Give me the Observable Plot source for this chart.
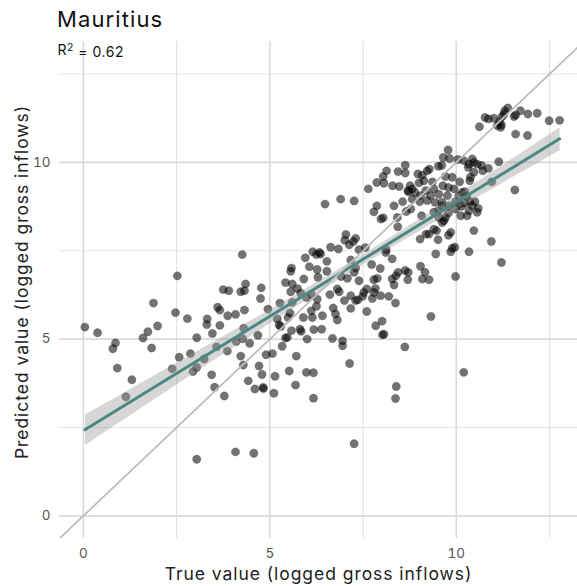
<!DOCTYPE html>
<html>
<head>
<meta charset="utf-8">
<script src="https://cdn.jsdelivr.net/npm/d3@7"></script>
<script src="https://cdn.jsdelivr.net/npm/@observablehq/plot@0.6"></script>
<style>
  body { margin: 0; background: #fff; }
  #title { font-family: Inter, sans-serif; font-size: 22px; letter-spacing: 1.1px; color: #111; height: 30px; padding-top: 6px; line-height: 26px; padding-left: 57px; box-sizing: content-box; }
  .axtitle { letter-spacing: 0.95px; }
  .r2 { letter-spacing: 0.5px; }
</style>
</head>
<body>
<div id="title">Mauritius</div>
<div id="chart"></div>
<script>
// ---- data ----
const chartTitle = "Mauritius";
const r2Base = "R";
const r2Sup = "2";
const r2Rest = " = 0.62";
const xLabel = "True value (logged gross inflows)";
const yLabel = "Predicted value (logged gross inflows)";
const majorTicks = [0, 5, 10];
const minorTicks = [2.5, 7.5, 12.5];
const xDomain = [-0.64, 13.25];
const yDomain = [-0.64, 13.42];

const trueValue = [
  4.26, 2.52,
  0.04, 0.38, 0.86, 0.79, 0.91, 1.30, 1.14, 1.88, 1.60, 1.73, 1.99, 1.83, 2.47, 2.79, 2.57, 2.87, 2.38, 2.94,
  3.04, 3.24, 3.04, 3.32, 3.31, 3.46, 3.66, 3.60, 3.66, 3.87, 4.08, 3.75, 3.90, 4.22, 3.57, 3.86, 4.10, 4.27,
  4.30, 4.22, 4.29, 3.44, 3.52, 3.78, 3.04, 4.08,
  5.42, 5.60, 5.91, 4.32, 4.35, 4.77, 4.75, 5.56, 5.74, 5.83, 5.27, 5.60, 4.95, 4.32, 5.98, 6.12, 6.27, 6.25,
  6.11, 6.14, 5.90, 6.41, 5.54, 5.49, 5.20, 5.29, 5.25, 5.58, 5.81, 5.84, 6.18, 6.39, 6.00, 6.61, 6.81, 6.86,
  7.00, 7.17, 7.17, 7.30, 7.36, 7.52, 7.60, 7.49, 7.75, 7.79, 7.83, 7.97, 8.19, 8.37, 6.70, 6.76, 6.81, 7.60,
  7.84, 8.01, 8.02, 8.06, 6.68, 6.95, 6.95, 4.68, 4.46, 5.42, 5.47, 5.33, 5.07, 4.90, 5.71, 5.52, 5.98, 6.17,
  5.14, 4.71, 4.79, 4.42, 4.60, 4.82, 4.83, 5.11, 5.69, 6.17, 7.14, 8.62, 8.39, 8.37, 7.26, 4.57, 7.08, 7.39,
  7.79, 7.88, 8.28, 8.33, 8.70,
  6.48, 6.90, 7.26, 7.64, 7.87, 8.04, 8.13, 8.06, 8.29, 8.47, 8.44, 8.63, 8.63, 8.70, 8.72, 7.87, 7.79, 7.98,
  8.04, 8.33, 8.56, 8.42, 8.43, 8.66, 7.04, 7.01, 7.13, 7.30, 7.24, 6.63, 6.84, 6.15, 6.25, 6.33, 6.36, 5.95,
  6.53, 6.06, 6.27, 6.53, 5.58, 5.56, 7.17, 7.39, 7.56, 7.73, 7.96, 8.12, 8.28, 8.11, 7.30, 7.26, 6.29, 6.91,
  8.44, 8.38, 8.63,
  10.62, 10.77, 10.86, 11.01, 11.10, 11.16, 11.23, 11.28, 11.30, 11.38, 11.21, 11.19, 11.55, 11.59, 11.72,
  11.92, 12.17, 12.49, 12.77, 11.59, 11.91, 9.78, 9.65, 9.82, 10.04, 10.20, 10.34, 10.43, 10.47, 10.56, 10.68,
  10.86, 11.14, 10.71, 10.47, 10.32, 10.38, 10.36, 10.09, 9.89, 9.71, 9.64, 9.52, 9.61, 9.28, 9.22, 9.09, 8.97,
  9.13, 8.76, 8.82, 9.00, 8.89, 9.04, 9.18, 9.36, 9.40, 9.53, 9.31, 8.82, 9.02, 9.22, 9.43, 9.62, 9.76, 9.79,
  9.94, 10.07, 10.16, 10.23, 10.28, 10.36, 10.43, 10.50, 10.56, 10.59, 10.34, 10.14, 9.98, 9.80, 9.62, 9.52,
  9.71, 9.53, 9.40, 8.78, 9.07, 9.79, 9.98, 10.09, 10.23, 10.12, 10.29, 10.95, 11.57, 9.62, 9.67, 9.19, 9.27,
  9.40, 9.47, 9.51, 9.03, 9.79, 9.85, 10.47, 10.94, 9.89, 9.96, 9.85, 10.34, 9.45, 11.21, 9.04, 9.16, 8.71, 9.98,
  9.09, 9.27, 9.32, 10.20
];
const predictedValue = [
  7.39, 6.79,
  5.34, 5.18, 4.89, 4.73, 4.18, 3.85, 3.37, 6.02, 5.03, 5.21, 5.37, 4.75, 5.75, 5.58, 4.49, 4.59, 4.16, 4.08,
  4.20, 4.44, 5.04, 5.57, 5.41, 5.16, 5.39, 5.90, 5.82, 5.66, 5.70, 6.40, 6.37, 6.34, 4.78, 4.66, 4.93, 5.01,
  5.31, 4.52, 4.27, 3.99, 3.64, 3.39, 1.60, 1.81,
  6.60, 6.56, 6.70, 6.37, 6.56, 6.45, 6.15, 6.34, 6.43, 6.30, 6.02, 6.04, 5.85, 5.82, 6.18, 6.26, 6.13, 5.93,
  5.80, 5.61, 5.61, 5.66, 5.74, 5.61, 5.57, 5.36, 5.40, 5.24, 5.28, 5.22, 5.27, 5.28, 5.00, 6.26, 6.42, 6.34,
  6.09, 5.87, 6.23, 6.09, 6.11, 6.32, 6.42, 6.21, 6.15, 6.32, 6.43, 6.23, 6.21, 6.02, 5.88, 5.71, 5.54, 5.78,
  5.38, 5.51, 5.12, 5.14, 5.02, 4.95, 4.81, 5.11, 4.88, 5.03, 5.05, 4.80, 4.59, 4.56, 4.52, 4.10, 4.06, 4.05,
  3.95, 4.24, 4.00, 3.82, 3.59, 3.63, 3.60, 3.47, 3.70, 3.33, 4.31, 4.78, 3.66, 3.32, 2.04, 1.77, 6.72, 6.65,
  6.68, 6.72, 6.70, 6.53, 6.68,
  8.82, 8.96, 8.91, 9.25, 9.43, 9.60, 9.76, 9.41, 9.34, 9.32, 9.74, 9.92, 9.70, 9.20, 9.17, 8.77, 8.60, 8.40,
  8.43, 8.77, 8.89, 8.44, 8.18, 8.61, 7.96, 7.80, 7.67, 7.85, 7.76, 7.60, 7.55, 7.47, 7.39, 7.45, 7.41, 7.30,
  7.20, 7.05, 6.97, 6.92, 7.01, 6.92, 7.24, 7.53, 7.59, 7.11, 7.00, 7.53, 7.27, 7.45, 7.01, 6.89, 6.75, 6.77,
  6.89, 6.79, 6.94,
  11.01, 11.27, 11.23, 11.25, 11.04, 11.15, 11.30, 11.37, 11.46, 11.54, 11.06, 10.99, 11.30, 11.34, 11.46,
  11.37, 11.39, 11.18, 11.19, 10.80, 10.76, 10.35, 10.14, 10.11, 10.08, 10.05, 9.95, 10.10, 10.00, 9.95, 9.91,
  9.83, 10.02, 9.76, 9.72, 9.86, 9.58, 9.48, 9.45, 9.58, 9.60, 9.34, 9.89, 9.91, 9.81, 9.76, 9.64, 9.67,
  9.48, 9.34, 9.25, 9.42, 9.15, 9.06, 9.20, 9.45, 9.25, 9.10, 9.06, 8.96, 8.89, 8.92, 8.87, 8.87, 9.06, 9.29,
  9.25, 9.06, 9.15, 9.17, 9.04, 8.89, 8.77, 8.89, 8.59, 8.70, 8.63, 8.76, 8.68, 8.77, 8.77, 8.63,
  8.44, 8.44, 8.59, 8.68, 8.49, 8.57, 8.89, 8.82, 8.85, 8.49, 8.49, 9.45, 9.22, 8.30, 8.35, 7.97, 7.97,
  8.11, 8.07, 7.81, 7.83, 7.94, 8.02, 8.07, 7.76, 7.57, 7.60, 7.47, 7.47, 7.41, 7.17, 7.06, 6.89, 6.89, 6.77,
  6.70, 6.68, 5.64, 4.06
];

const points = trueValue.map((t, i) => ({truth: t, pred: predictedValue[i]}));
const identityEnds = [yDomain[0], yDomain[1]];

const W = 577, H = 550;
const chart = Plot.plot({
  width: W,
  height: H,
  marginTop: 5,
  marginLeft: 59,
  marginRight: 0,
  marginBottom: 48,
  style: {fontFamily: "Inter, sans-serif", fontSize: "13px", background: "#fff"},
  x: {domain: xDomain, label: null},
  y: {domain: yDomain, label: null},
  marks: [
    Plot.gridX(minorTicks, {stroke: "#e4e4e4", strokeOpacity: 1, strokeWidth: 1.2}),
    Plot.gridY(minorTicks, {stroke: "#e4e4e4", strokeOpacity: 1, strokeWidth: 1.2}),
    Plot.gridX(majorTicks, {stroke: "#dadada", strokeOpacity: 1, strokeWidth: 1.6}),
    Plot.gridY(majorTicks, {stroke: "#dadada", strokeOpacity: 1, strokeWidth: 1.6}),
    Plot.axisX(majorTicks, {tickSize: 0, tickPadding: 10, fill: "#555", fontSize: 13.5}),
    Plot.axisY(majorTicks, {tickSize: 0, tickPadding: 9, fill: "#555", fontSize: 13.5}),
    Plot.dot(points, {x: "truth", y: "pred", r: 4.2, fill: "#000", fillOpacity: 0.55, stroke: "#000", strokeOpacity: 0.25, strokeWidth: 0.6}),
    Plot.linearRegressionY(points, {x: "truth", y: "pred", stroke: "#4c8786", strokeWidth: 3, fill: "#999", fillOpacity: 0.4, ci: 0.95}),
    Plot.line(identityEnds, {x: d => d, y: d => d, stroke: "#bdbdbd", strokeWidth: 1.8, clip: true}),
    Plot.text([r2Base + r2Sup + r2Rest], {frameAnchor: "top-left", dx: -2, dy: 4, lineAnchor: "top", textAnchor: "start", fontSize: 14, fill: "#111", className: "r2"}),
    Plot.text([xLabel], {frameAnchor: "bottom", dy: 36, lineAnchor: "middle", textAnchor: "middle", fontSize: 17.5, fill: "#222", className: "axtitle"}),
    Plot.text([yLabel], {frameAnchor: "left", dx: -37, dy: -8, rotate: -90, lineAnchor: "middle", textAnchor: "middle", fontSize: 17.5, fill: "#222", className: "axtitle"})
  ]
});
// render the R² label with a true superscript
d3.select(chart).selectAll("g.r2 text").each(function() {
  const t = d3.select(this);
  t.text(null);
  t.append("tspan").text(r2Base);
  t.append("tspan").attr("dy", "-0.45em").attr("font-size", "10.5px").text(r2Sup);
  t.append("tspan").attr("dy", "0.45em").text(r2Rest);
});
document.getElementById("title").textContent = chartTitle;
document.getElementById("chart").appendChild(chart);
</script>
</body>
</html>
